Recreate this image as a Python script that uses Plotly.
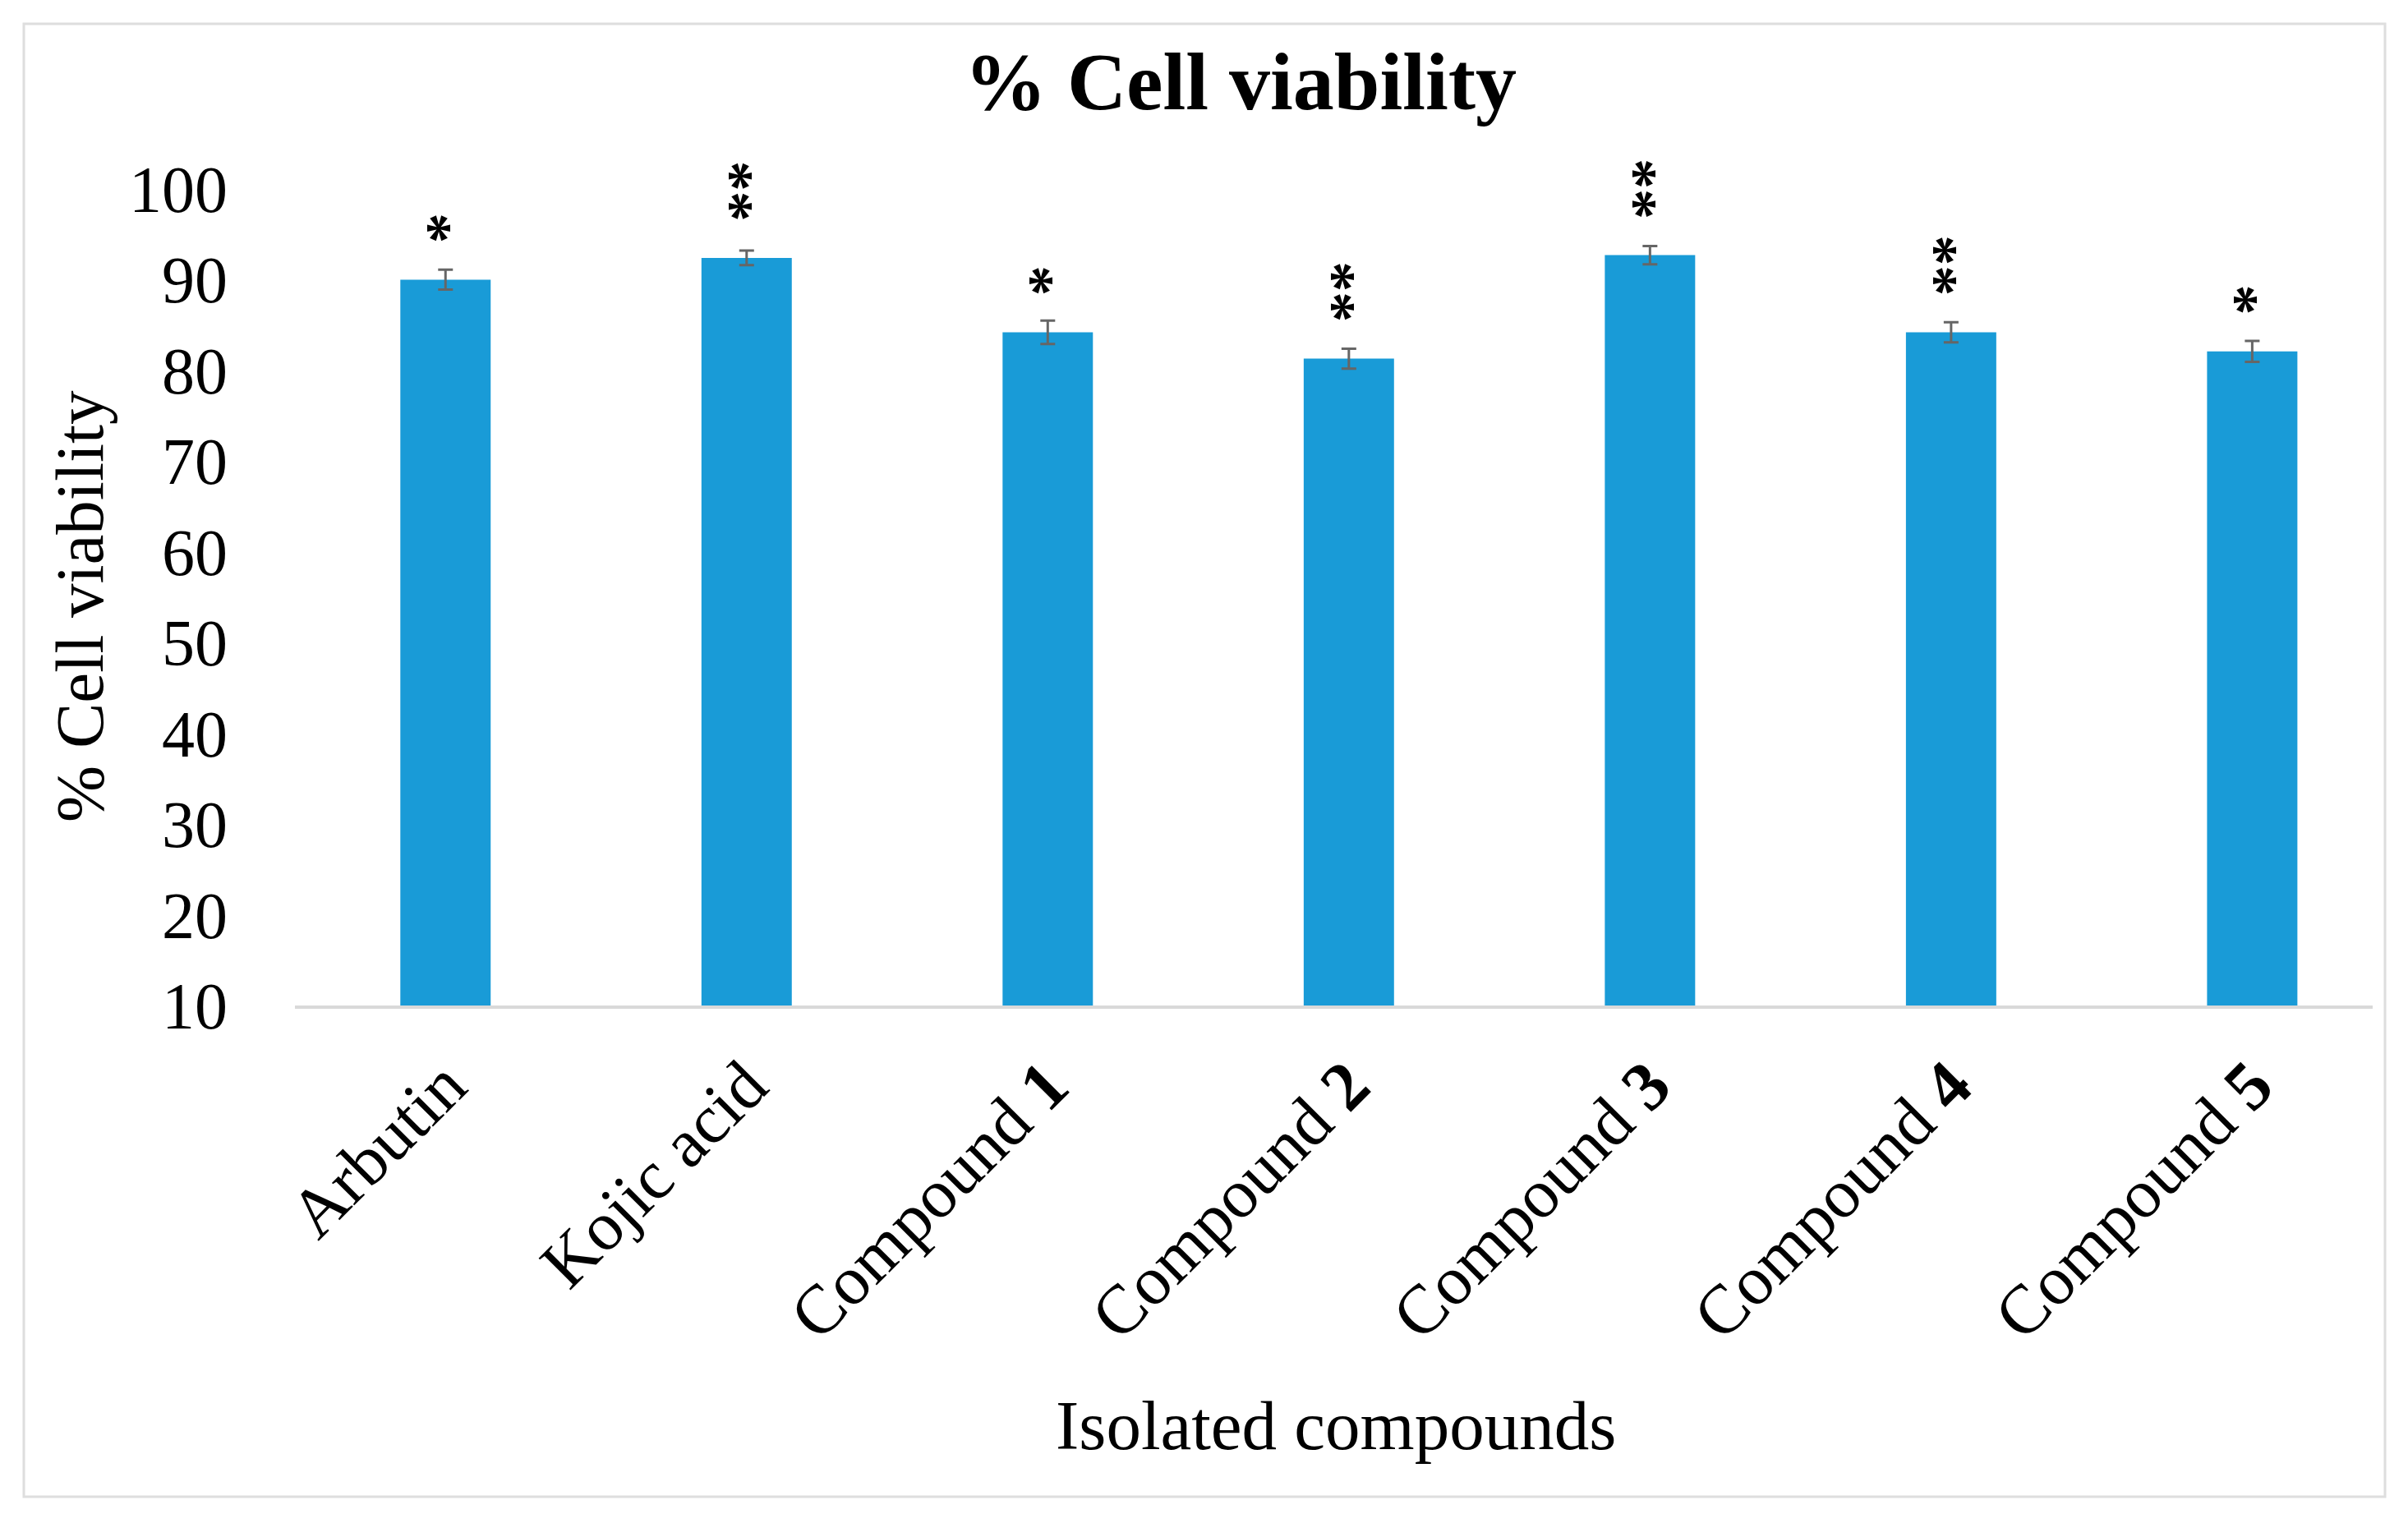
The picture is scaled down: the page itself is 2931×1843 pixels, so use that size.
import plotly.graph_objects as go

categories = ["Arbutin", "Kojic acid", "Compound 1", "Compound 2", "Compound 3", "Compound 4", "Compound 5"]
tick_labels = ["Arbutin", "Kojic acid", "Compound <b>1</b>", "Compound <b>2</b>", "Compound <b>3</b>",
               "Compound <b>4</b>", "Compound <b>5</b>"]
viability = [90.0, 92.4, 84.2, 81.3, 92.7, 84.2, 82.1]
errors = [1.1, 0.8, 1.3, 1.1, 1.0, 1.1, 1.15]
significance = ["*", "**", "*", "**", "**", "**", "*"]
y_ticks = [10, 20, 30, 40, 50, 60, 70, 80, 90, 100]

FONT = "Liberation Serif, Times New Roman, serif"
OFF = 8  # default page body margin
W, H = 2931 - 2 * OFF, 1843 - 2 * OFF
L, T = 359 - OFF, 230 - OFF
plot_right, plot_bottom = 2888 - OFF, 1224 - OFF
R, B = W - plot_right, H - plot_bottom
pw, ph = plot_right - L, plot_bottom - T


def px(xs):
    return (xs - OFF - L) / pw


def py(ys):
    return (plot_bottom - (ys - OFF)) / ph


fig = go.Figure()
fig.add_trace(go.Bar(
    x=categories, y=viability,
    width=0.30,
    marker=dict(color="#199BD7", line=dict(width=0)),
    error_y=dict(type="data", array=errors, visible=True, color="#666666", thickness=3, width=9),
))

# significance stars (vertical stack, as in the source chart's rotated data labels)
for c, v, s in zip(categories, viability, significance):
    fig.add_annotation(x=c, y=v, xref="x", yref="y", text="<b>" + s + "</b>", showarrow=False,
                       textangle=-90, yanchor="bottom", xanchor="center", yshift=42, xshift=2,
                       font=dict(family=FONT, size=74, color="#000000"))

# y-axis title
fig.add_annotation(xref="paper", yref="paper", x=px(97), y=py(738),
                   text="% Cell viability", textangle=-90, showarrow=False,
                   xanchor="center", yanchor="middle",
                   font=dict(family=FONT, size=83, color="#000000"))
# x-axis title
fig.add_annotation(xref="paper", yref="paper", x=px(1626), y=py(1735),
                   text="Isolated compounds", showarrow=False,
                   xanchor="center", yanchor="middle",
                   font=dict(family=FONT, size=85, color="#000000"))

# outer border
fig.add_shape(type="rect", xref="paper", yref="paper",
              x0=px(29), x1=px(2903), y0=py(1822), y1=py(29),
              line=dict(color="#dedede", width=3), fillcolor="rgba(0,0,0,0)", layer="below")

fig.update_layout(
    width=W, height=H,
    margin=dict(l=L, r=R, t=T, b=B, autoexpand=False),
    paper_bgcolor="white", plot_bgcolor="white",
    showlegend=False,
    title=dict(text="<b>% Cell viability</b>", x=(1510 - OFF) / W, xanchor="center",
               y=1 - (98 - OFF) / H, yanchor="middle",
               font=dict(family=FONT, size=100, color="#000000")),
    font=dict(family=FONT, color="#000000"),
    xaxis=dict(
        tickmode="array", tickvals=categories, ticktext=tick_labels,
        tickangle=-45, tickfont=dict(family=FONT, size=84, color="#000000"),
        range=[-0.5, 6.4], showline=True, linecolor="#d9d9d9", linewidth=4,
        ticks="", showgrid=False, zeroline=False, ticklabelstandoff=10,
    ),
    yaxis=dict(
        range=[10, 100], tickvals=y_ticks, showgrid=False, zeroline=False,
        showline=False, ticks="", tickfont=dict(family=FONT, size=80, color="#000000"),
        ticklabelstandoff=81,
    ),
)

fig.write_html("out.html")
